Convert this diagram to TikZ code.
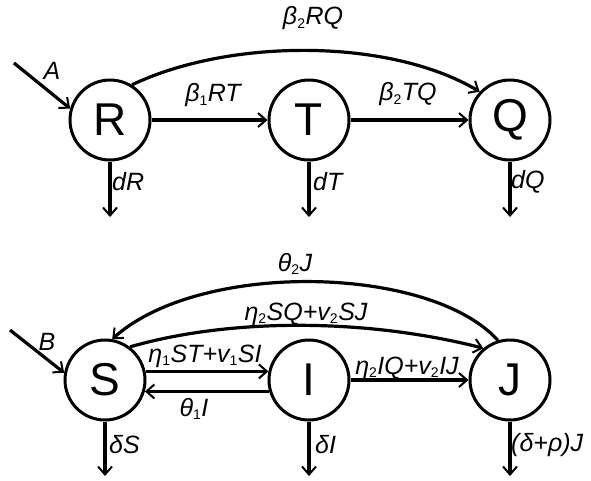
\documentclass[tikz,border=0pt]{standalone}
\usepackage{fontspec}
\setmainfont{Liberation Sans}
\usetikzlibrary{arrows.meta}
\tikzset{
  comp/.style={circle, draw, line width=3pt, minimum size=80pt, inner sep=0pt, font=\fontsize{46}{46}\selectfont},
  flow/.style={line width=3.2pt, -{Straight Barb[length=8pt,width=14pt,line width=2pt]}},
  rate/.style={font=\fontsize{25}{25}\selectfont\itshape, inner sep=0pt},
}
\newcommand\lo[1]{\textsubscript{\upshape\fontsize{14}{14}\selectfont #1}}
\begin{document}
\begin{tikzpicture}[x=1pt,y=-1pt]
\useasboundingbox (0,0) rectangle (591,480);

% compartments, first system
\node[comp] (R) at (110,120) {R};
\node[comp] (T) at (309,120) {T};
\node[comp] (Q) at (510,120) {Q};

% compartments, second system
\node[comp] (S) at (105,380) {S};
\node[comp] (I) at (309,380) {I};
\node[comp] (J) at (510,380) {J};

% inflow and outflow ends
\coordinate (Ain) at (14,63);
\coordinate (Bin) at (10,330);
\coordinate (Rout) at (110,217);
\coordinate (Tout) at (309,217);
\coordinate (Qout) at (510,217);
\coordinate (Sout) at (105,476);
\coordinate (Iout) at (309,476);
\coordinate (Jout) at (510,476);

% first system flows
\draw[flow] (Ain) -- (R.164);
\draw[flow] (R) -- (T);
\draw[flow] (T) -- (Q);
\draw[flow] (R.58) .. controls (230,38) and (390,38) .. (Q.137);
\draw[flow] (R) -- (Rout);
\draw[flow] (T) -- (Tout);
\draw[flow] (Q) -- (Qout);

\node[rate] (lA) at (52,71) {A};
\node[rate] (lRT) at (213,95) {β\lo{1}RT};
\node[rate] (lTQ) at (408,94) {β\lo{2}TQ};
\node[rate] (lRQ) at (313,18) {β\lo{2}RQ};
\node[rate, anchor=west] (ldR) at (112,182) {dR};
\node[rate, anchor=west] (ldT) at (313,182) {dT};
\node[rate, anchor=west] (ldQ) at (511,182) {dQ};

% second system flows
\draw[flow] (Bin) -- (S.170);
\draw[flow] (S.12) -- (I.168);
\draw[flow] (I.196) -- (S.344);
\draw[flow] (I) -- (J);
\draw[flow] (S.53) .. controls (230,318) and (365,318) .. (J.130);
\draw[flow] (J.107) .. controls (430,265) and (200,260) .. (S.80);
\draw[flow] (S) -- (Sout);
\draw[flow] (I) -- (Iout);
\draw[flow] (J) -- (Jout);

\node[rate] (lB) at (47,342) {B};
\node[rate] (lSI) at (205,356) {η\lo{1}ST+v\lo{1}SI};
\node[rate] (lIS) at (194,409) {θ\lo{1}I};
\node[rate] (lIJ) at (407,368) {η\lo{2}IQ+v\lo{2}IJ};
\node[rate] (lSJ) at (306,314) {η\lo{2}SQ+v\lo{2}SJ};
\node[rate] (lJS) at (295,264) {θ\lo{2}J};
\node[rate, anchor=west] (ldS) at (109,445) {δS};
\node[rate, anchor=west] (ldI) at (315,445) {δI};
\node[rate, anchor=west] (ldJ) at (511,445) {(δ+ρ)J};
\end{tikzpicture}
\end{document}
